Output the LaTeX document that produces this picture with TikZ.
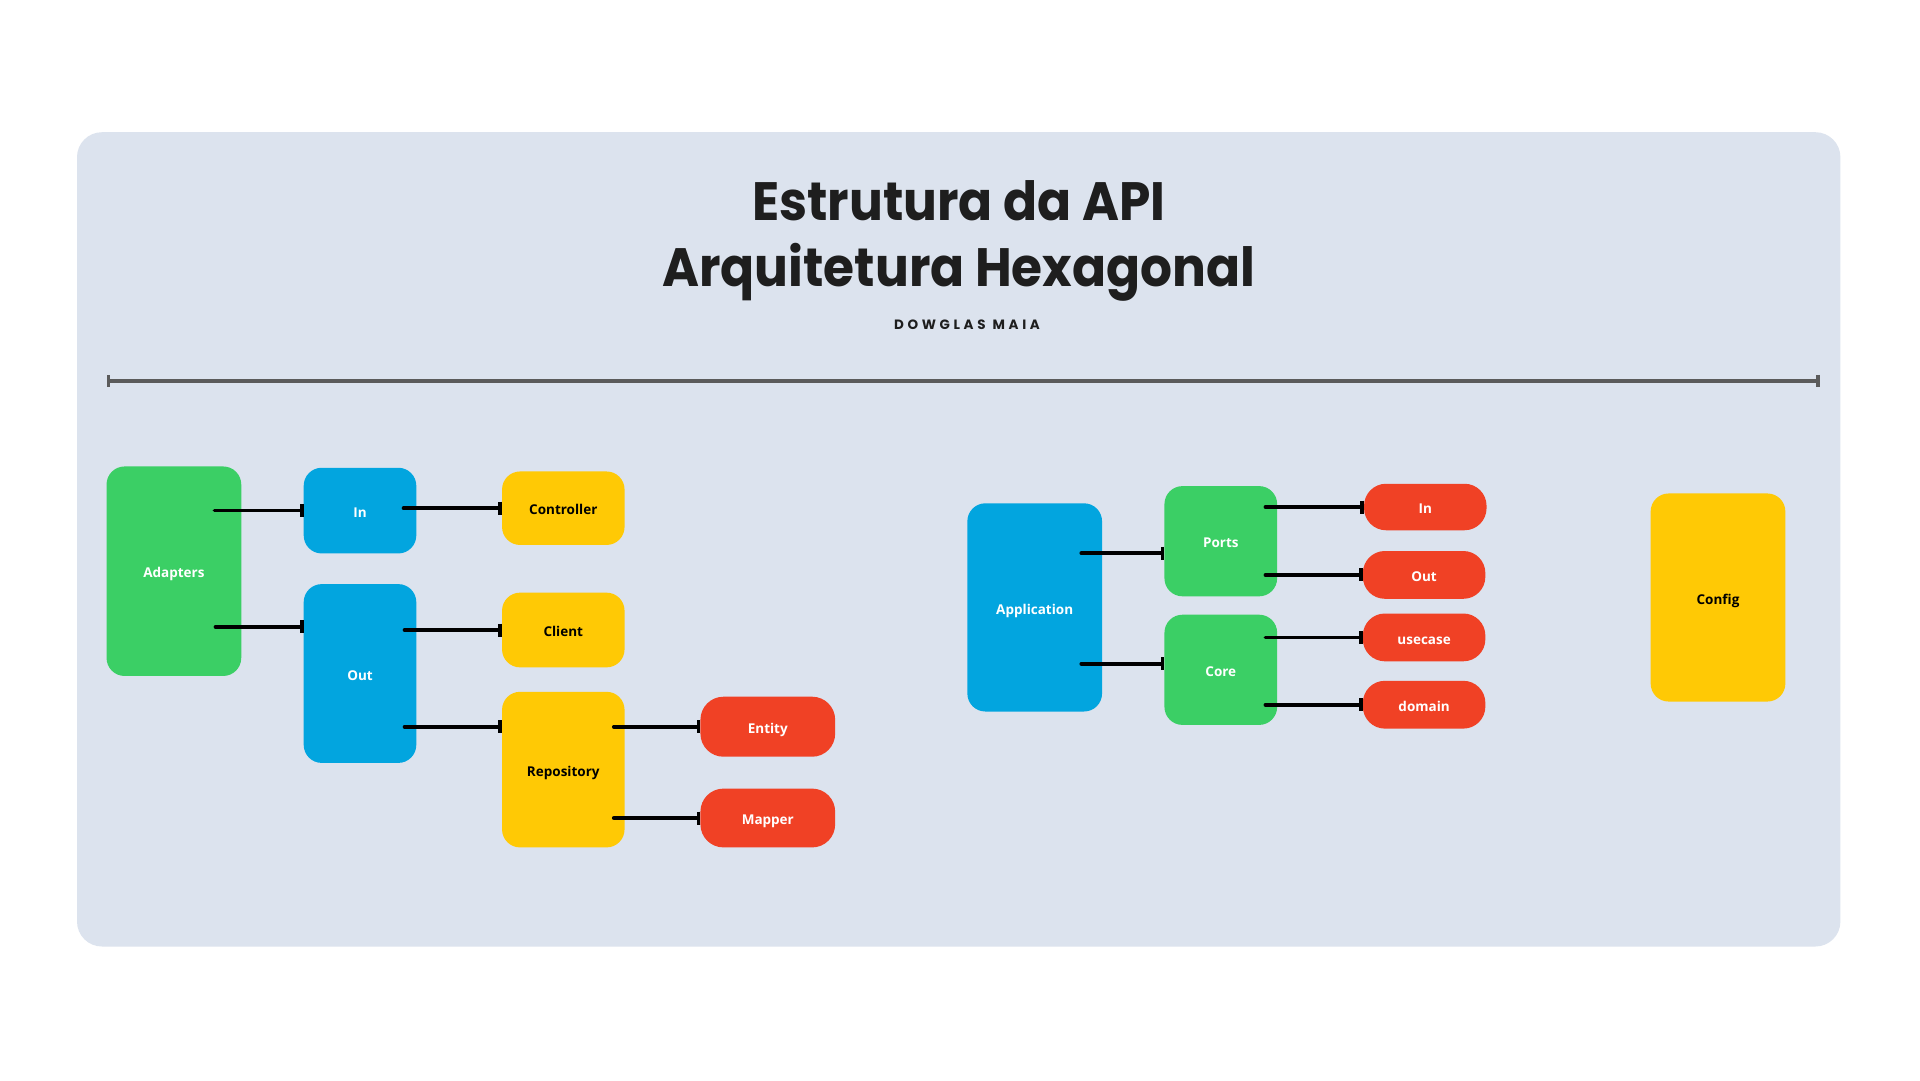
\documentclass[tikz,border=0pt]{standalone}
\usepackage{fontspec}
\setmainfont{Open Sans}
\newfontfamily\titlefont{Poppins}
\newfontfamily\subfont{Poppins}[LetterSpace=27]
\usetikzlibrary{arrows.meta,calc}
\definecolor{panelc}{HTML}{DCE3EE}
\definecolor{greenc}{HTML}{3BCF65}
\definecolor{bluec}{HTML}{02A5DF}
\definecolor{yellowc}{HTML}{FFC905}
\definecolor{redc}{HTML}{F04125}
\definecolor{titlec}{HTML}{1E1E1E}
\definecolor{sepc}{HTML}{5B5B5B}
\tikzset{
  box/.style={rounded corners=18pt, inner sep=0pt, draw=none,
    text height=13.5pt, text depth=0pt,
    font=\bfseries\fontsize{13.5}{16}\selectfont},
  gbox/.style={box, fill=greenc, text=white},
  bbox/.style={box, fill=bluec, text=white},
  ybox/.style={box, fill=yellowc, text=black},
  rbox/.style={box, fill=redc, text=white, rounded corners=23pt},
  conn/.style={line width=3.6pt, draw=black, line cap=round, -{Bar[width=13pt,line cap=butt]}},
  sepline/.style={line width=3.4pt, draw=sepc, {Bar[width=12pt]}-{Bar[width=12pt]}},
  titletext/.style={anchor=base, text=titlec, xscale=0.93, font=\titlefont\bfseries\fontsize{54}{60}\selectfont},
}
\begin{document}
\begin{tikzpicture}[x=1pt,y=-1pt]
\useasboundingbox (0,0) rectangle (1920,1080);
\fill[white] (0,0) rectangle (1920,1080);
\fill[panelc, rounded corners=25pt] (77,132.2) rectangle (1840.4,946.5);

\node[titletext] (t1) at (958.8,220.4) {Estrutura da API};
\node[titletext] (t2) at (958.8,286.5) {Arquitetura Hexagonal};
\node[anchor=base, text=titlec, font=\subfont\bfseries\fontsize{13.5}{15}\selectfont] (sub) at (967,329.4) {DOWGLAS\hspace{7pt}MAIA};

\coordinate (sepL) at (106.5,380.8);
\coordinate (sepR) at (1819.6,380.8);
\draw[sepline] (sepL) -- (sepR);

% left group
\node[gbox, minimum width=134.7pt, minimum height=209.5pt] (Adapters) at (173.9,571.2) {Adapters};
\node[bbox, minimum width=112.6pt, minimum height=85.7pt] (In) at (360,510.6) {In};
\node[bbox, minimum width=112.6pt, minimum height=178.8pt] (Out) at (360,673.5) {Out};
\node[ybox, minimum width=122.5pt, minimum height=73.5pt] (Controller) at (563.3,508.2) {Controller};
\node[ybox, minimum width=122.5pt, minimum height=74.7pt] (Client) at (563.3,630) {Client};
\node[ybox, minimum width=122.5pt, minimum height=155.6pt] (Repository) at (563.3,769.6) {Repository};
\node[rbox, minimum width=134.7pt, minimum height=60pt] (Entity) at (767.8,726.7) {Entity};
\node[rbox, minimum width=134.7pt, minimum height=58.8pt] (Mapper) at (767.8,818) {Mapper};

% right group
\node[bbox, minimum width=134.7pt, minimum height=208.2pt] (Application) at (1034.7,607.4) {Application};
\node[gbox, minimum width=112.7pt, minimum height=110.2pt] (Ports) at (1220.8,541.2) {Ports};
\node[gbox, minimum width=112.7pt, minimum height=110.2pt] (Core) at (1220.8,669.8) {Core};
\node[rbox, minimum width=122.5pt, minimum height=46.5pt, rounded corners=22pt] (PIn) at (1425.3,507) {In};
\node[rbox, minimum width=122.5pt, minimum height=47.8pt, rounded corners=22pt] (POut) at (1424.1,574.9) {Out};
\node[rbox, minimum width=122.5pt, minimum height=47.8pt, rounded corners=22pt] (usecase) at (1424.1,637.4) {usecase};
\node[rbox, minimum width=122.5pt, minimum height=47.8pt, rounded corners=22pt] (domain) at (1424.1,704.7) {domain};
\node[ybox, minimum width=134.7pt, minimum height=208.1pt] (Config) at (1718,597.5) {Config};

% connectors
\draw[conn] ($(In.west -| Adapters.east)+(-27,0)$) -- (In.west);
\draw[conn] ($(Out.north -| Adapters.east)+(-26,43)$) -- ($(Out.north west)+(0,43)$);
\draw[conn] ($(Controller.west -| In.east)+(-13,0)$) -- (Controller.west);
\draw[conn] ($(Client.west -| Out.east)+(-12,0)$) -- (Client.west);
\draw[conn] ($(Entity.west -| Out.east)+(-12,0)$) -- (Entity.west -| Repository.west);
\draw[conn] ($(Entity.west -| Repository.east)+(-11,0)$) -- (Entity.west);
\draw[conn] ($(Mapper.west -| Repository.east)+(-11,0)$) -- (Mapper.west);

\draw[conn] ($(Ports.west -| Application.east)+(-21,12)$) -- ($(Ports.west)+(0,12)$);
\draw[conn] ($(Core.west -| Application.east)+(-21,-6)$) -- ($(Core.west)+(0,-6)$);
\draw[conn] ($(PIn.west -| Ports.east)+(-12,0)$) -- (PIn.west);
\draw[conn] ($(POut.west -| Ports.east)+(-12,0)$) -- (POut.west);
\draw[conn] ($(usecase.west -| Core.east)+(-12,0)$) -- (usecase.west);
\draw[conn] ($(domain.west -| Core.east)+(-12,0)$) -- (domain.west);
\end{tikzpicture}
\end{document}
